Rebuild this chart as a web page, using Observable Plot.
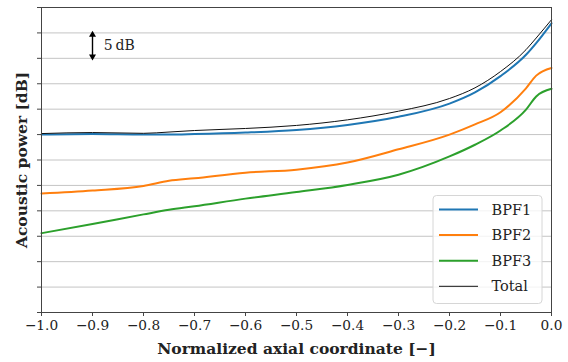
<!DOCTYPE html>
<html><head><meta charset="utf-8">
<script src="https://cdn.jsdelivr.net/npm/d3@7"></script>
<script src="https://cdn.jsdelivr.net/npm/@observablehq/plot@0.6"></script>
<style>
body{margin:0;background:#fff;}
#chart{width:568px;height:362px;}
#chart svg, #chart svg text{font-family:'DejaVu Serif',serif !important;}
</style></head><body><div id="chart"></div>
<script>
// ---- data ----
const xs    = [-1.0, -0.9, -0.8, -0.75, -0.7, -0.6, -0.5, -0.4, -0.3, -0.2, -0.15, -0.1, -0.05, -0.03, 0.0];
const bpf1  = [35.0, 35.1, 35.0, 35.0, 35.1, 35.4, 35.9, 36.9, 38.5, 41.1, 43.3, 46.5, 50.7, 53.0, 56.9];
const bpf2  = [23.4, 24.0, 24.9, 25.9, 26.4, 27.5, 28.1, 29.5, 32.1, 35.0, 37.0, 39.4, 44.1, 46.6, 48.1];
const bpf3  = [15.6, 17.4, 19.3, 20.2, 20.9, 22.4, 23.7, 25.1, 27.1, 30.7, 33.0, 35.8, 39.9, 42.5, 44.0];
const total = [35.2, 35.4, 35.25, 35.5, 35.8, 36.2, 36.8, 37.9, 39.6, 42.1, 44.2, 47.4, 51.7, 54.0, 57.6];
const seriesNames  = ["BPF1", "BPF2", "BPF3", "Total"];
const seriesColors = ["#1f77b4", "#ff7f0e", "#2ca02c", "#111111"];
const xTicks = [-1.0, -0.9, -0.8, -0.7, -0.6, -0.5, -0.4, -0.3, -0.2, -0.1, 0.0];
const yTicks = [0, 5, 10, 15, 20, 25, 30, 35, 40, 45, 50, 55, 60];
const xLabel = "Normalized axial coordinate [−]";
const yLabel = "Acoustic power [dB]";
const scaleNote = {x: -0.9, y1: 50, y2: 55, text: "5\u2009dB"};

// ---- build table ----
const values = [bpf1, bpf2, bpf3, total];
const data = seriesNames.flatMap((name, i) => xs.map((x, j) => ({x, y: values[i][j], series: name})));
const bpfData = data.filter(d => d.series !== "Total");
const totData = data.filter(d => d.series === "Total");

const FONT = "'DejaVu Serif', serif";
const fmt = d => (d < 0 ? "−" : "") + Math.abs(d).toFixed(1);

const plot = Plot.plot({
  width: 568, height: 362,
  marginLeft: 41, marginRight: 17, marginTop: 7, marginBottom: 50,
  style: {fontFamily: FONT, fontSize: "14px", background: "white", color: "#222"},
  x: {domain: [-1, 0], label: null},
  y: {domain: [0, 60], label: null},
  color: {domain: seriesNames, range: seriesColors},
  marks: [
    Plot.gridY(yTicks, {stroke: "#c4c4c4", strokeOpacity: 1, strokeWidth: 1}),
    Plot.line(bpfData, {x: "x", y: "y", stroke: "series", strokeWidth: 2, curve: "monotone-x"}),
    Plot.line(totData, {x: "x", y: "y", stroke: "series", strokeWidth: 1, curve: "monotone-x"}),
    Plot.frame({stroke: "#444", strokeWidth: 1}),
    Plot.axisX(xTicks, {tickSize: 4, tickPadding: 4, tickFormat: fmt, stroke: "#444", fontSize: 13.7, fill: "#222"}),
    Plot.axisY(yTicks, {tickSize: 4, tickFormat: () => "", stroke: "#444"}),
    Plot.text([xLabel], {frameAnchor: "bottom", dy: 41, fontWeight: "bold", fontSize: 15.5, fill: "#222"}),
    Plot.text([yLabel], {frameAnchor: "left", textAnchor: "middle", rotate: -90, dx: -19, fontWeight: "bold", fontSize: 15.5, fill: "#222"}),
    // 5 dB scale indicator
    Plot.link([scaleNote], {x1: "x", x2: "x", y1: d => d.y1 + 0.5, y2: d => d.y2 - 0.5, stroke: "#000", strokeWidth: 1.4}),
    Plot.dot([scaleNote], {x: "x", y: d => d.y2 - 0.35, symbol: "triangle", r: 2.6, fill: "#000", stroke: null}),
    Plot.dot([scaleNote], {x: "x", y: d => d.y1 + 0.35, symbol: "triangle", r: 2.6, fill: "#000", stroke: null, rotate: 180}),
    Plot.text([scaleNote], {x: d => d.x + 0.022, y: d => (d.y1 + d.y2) / 2, text: "text", textAnchor: "start", fontSize: 14, fill: "#222"})
  ]
});

// ---- legend inside the plot (lower right) ----
const svg = d3.select(plot);
const color = plot.scale("color");
const frameRight = 568 - 17, frameBottom = 362 - 50;
const boxW = 109, boxH = 108;
const bx = frameRight - 9 - boxW, by = frameBottom - 8.5 - boxH;
const lg = svg.append("g").attr("font-family", FONT).attr("text-anchor", "start");
lg.append("rect").attr("x", bx).attr("y", by).attr("width", boxW).attr("height", boxH)
  .attr("rx", 3.5).attr("fill", "white").attr("fill-opacity", 0.8)
  .attr("stroke", "#d6d6d6").attr("stroke-width", 1);
seriesNames.forEach((name, i) => {
  const cy = by + 14 + i * 25.6;
  lg.append("line").attr("x1", bx + 6).attr("x2", bx + 45).attr("y1", cy).attr("y2", cy)
    .attr("stroke", color.apply(name)).attr("stroke-width", name === "Total" ? 1 : 2);
  lg.append("text").attr("x", bx + 58.5).attr("y", cy).attr("dy", "0.35em")
    .attr("text-anchor", "start").attr("font-size", 14.5).attr("fill", "#222").text(name);
});

document.getElementById("chart").appendChild(plot);
</script>
</body></html>
